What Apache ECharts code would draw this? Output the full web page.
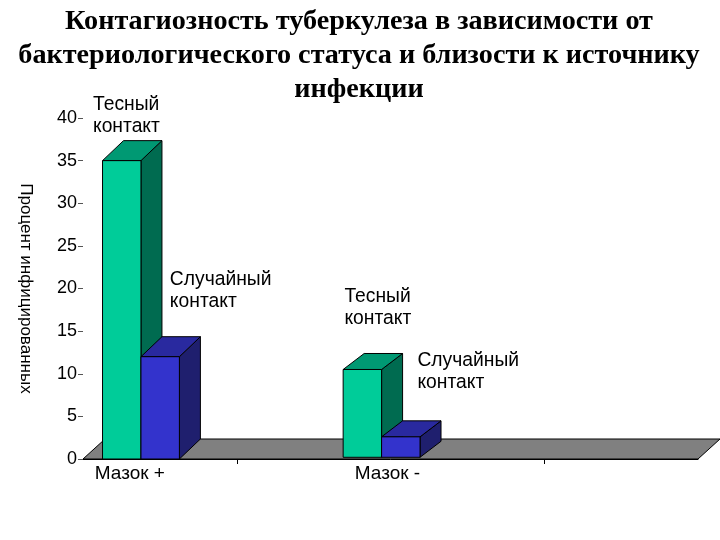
<!DOCTYPE html>
<html><head><meta charset="utf-8">
<style>html,body{margin:0;padding:0;background:#fff}#c{width:720px;height:540px}</style>
<script src="https://cdn.jsdelivr.net/npm/echarts@6/dist/echarts.min.js"></script>
</head><body><div id="c"></div>
<script>
const titleLines = ['Контагиозность туберкулеза в зависимости от','бактериологического статуса и близости к источнику','инфекции'];
const yAxisName = 'Процент инфицированных';
const categories = ['Мазок +','Мазок -'];
const categoryPos = [0.377, 1.942];
const categoryLabelPos = [0.305, 1.98];
const closeContact = [35, 10.5];
const casualContact = [12, 2.6];
const barBase = [0, 0.2];
const depthY = [20, 16];
const notes = [
  [0.065, 40.25, 'Тесный\nконтакт'],
  [0.565, 19.7, 'Случайный\nконтакт'],
  [1.70, 17.7, 'Тесный\nконтакт'],
  [2.175, 10.3, 'Случайный\nконтакт']
];
const barWidthUnits = 0.25, depthX = 21;

function poly(points, fill){
  return {type:'polygon', shape:{points}, style:{fill, stroke:'#000', lineWidth:1}};
}
function barItem(side, colors){
  return function(params, api){
    const c = api.value(0), v = api.value(1), b = api.value(2), dy = api.value(3);
    const cp = api.coord([c, v]), bp = api.coord([c, b]);
    const w = api.size([barWidthUnits, 0])[0];
    const x0 = side < 0 ? cp[0] - w : cp[0], x1 = x0 + w;
    const yt = cp[1], yb = bp[1];
    return {type:'group', children:[
      poly([[x1,yb],[x1+depthX,yb-dy],[x1+depthX,yt-dy],[x1,yt]], colors[1]),
      poly([[x0,yt],[x0+depthX,yt-dy],[x1+depthX,yt-dy],[x1,yt]], colors[2]),
      {type:'rect', shape:{x:x0,y:yt,width:w,height:yb-yt}, style:{fill:colors[0], stroke:'#000', lineWidth:1}}
    ]};
  };
}
const chart = echarts.init(document.getElementById('c'), null, {renderer:'canvas'});
chart.setOption({
  animation:false,
  backgroundColor:'#fff',
  title:{left:354, top:0, textAlign:'center',
    text:titleLines.join('\n'),
    textStyle:{fontFamily:'Liberation Serif', fontWeight:'bold', fontSize:28.2, lineHeight:34, color:'#000'}},
  grid:{left:83, top:118, width:615, height:341, containLabel:false},
  xAxis:{type:'value', min:0, max:4, interval:1, splitLine:{show:false},
    axisLine:{show:true, onZero:false, lineStyle:{color:'#000'}},
    axisTick:{show:true, length:5, customValues:[1,3], lineStyle:{color:'#000'}},
    axisLabel:{show:true, customValues:categoryLabelPos, margin:5, showMinLabel:true, showMaxLabel:true,
      fontFamily:'Liberation Sans', fontSize:19, color:'#000',
      formatter:v=>{const k=categoryLabelPos.indexOf(v);return k>=0?categories[k]:'';}}},
  yAxis:{type:'value', min:0, max:40, interval:5, splitLine:{show:false},
    name:yAxisName, nameLocation:'middle', nameRotate:-90, nameGap:49,
    nameTextStyle:{fontFamily:'Liberation Sans', fontSize:17, color:'#000'},
    axisLine:{show:false},
    axisTick:{show:true, length:5, lineStyle:{color:'#555'}},
    axisLabel:{margin:6, fontFamily:'Liberation Sans', fontSize:18, color:'#000'}},
  series:[
    {type:'custom', name:'floor', coordinateSystem:'cartesian2d', silent:true, clip:false, z:1,
      data:[[0,4,0]],
      renderItem:(p,api)=>{
        const a=api.coord([api.value(0),api.value(2)]), b=api.coord([api.value(1),api.value(2)]);
        return poly([a,[a[0]+22,a[1]-20],[b[0]+22,b[1]-20],b],'#808080');
      }},
    {type:'custom', name:'Тесный контакт', coordinateSystem:'cartesian2d', clip:false, z:2,
      data:categoryPos.map((x,i)=>[x,closeContact[i],barBase[i],depthY[i]]),
      renderItem:barItem(-1,['#00CC99','#006B50','#009973'])},
    {type:'custom', name:'Случайный контакт', coordinateSystem:'cartesian2d', clip:false, z:3,
      data:categoryPos.map((x,i)=>[x,casualContact[i],barBase[i],depthY[i]]),
      renderItem:barItem(1,['#3333CC','#1F1F6E','#29299F'])},
    {type:'custom', name:'notes', coordinateSystem:'cartesian2d', clip:false, z:4, silent:true,
      data:notes,
      encode:{x:0,y:1},
      renderItem:(p,api)=>{
        const pt=api.coord([api.value(0),api.value(1)]);
        return {type:'text', x:pt[0], y:pt[1], style:{text:notes[p.dataIndex][2], fill:'#000',
          font:'19.3px "Liberation Sans"', lineHeight:22, textAlign:'left', textVerticalAlign:'middle', verticalAlign:'middle'}};
      }}
  ]
});
</script></body></html>
